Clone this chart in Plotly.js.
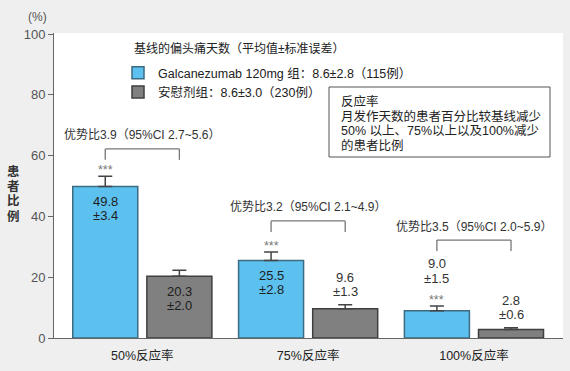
<!DOCTYPE html>
<html>
<head>
<meta charset="utf-8">
<script src="https://cdn.plot.ly/plotly-3.0.1.min.js"></script>
<style>html,body{margin:0;padding:0;background:#efefef;}#chart{width:570px;height:371px;}</style>
</head>
<body>
<div id="chart"></div>
<script>
// ---- data ----
const categories = ['50%反应率', '75%反应率', '100%反应率'];
const galcName = 'Galcanezumab 120mg 组：8.6±2.8（115例）';
const placeboName = '安慰剂组：8.6±3.0（230例）';
const galcValues = [49.8, 25.5, 9.0];
const galcErr = [3.4, 2.8, 1.5];
const placeboValues = [20.3, 9.6, 2.8];
const placeboErr = [2.0, 1.3, 0.6];
const oddsLabels = ['优势比3.9（95%CI 2.7~5.6）', '优势比3.2（95%CI 2.1~4.9）', '优势比3.5（95%CI 2.0~5.9）'];
const bracketTop = [62.2, 38.5, 32.2];
const legendTitle = '基线的偏头痛天数（平均值±标准误差）';
const noteLines = ['反应率', '月发作天数的患者百分比较基线减少', '50% 以上、75%以上以及100%减少', '的患者比例'];
const yTitleChars = ['患', '者', '比', '例'];
const yTicks = [0, 20, 40, 60, 80, 100];

// ---- style / layout constants ----
const FONT = 'Liberation Sans, Noto Sans CJK SC, sans-serif';
const BLUE = '#5cc1ee', BLUE_LINE = '#3d6b82';
const GRAY = '#808080', GRAY_LINE = '#3f3f3f';
const M = {l: 54, r: 7, t: 33, b: 33};
const W = 570, H = 371;
const PW = W - M.l - M.r, PH = H - M.t - M.b;
const BARGAP = 0.106, BARGROUPGAP = 0.123;
const slot = (1 - BARGAP) / 2;
const px2x = px => (px - M.l) / PW;
const py2y = py => (H - M.b - py) / PH;

const errBar = (arr, c) => ({type: 'data', array: arr, arrayminus: arr.map(() => 0), symmetric: false,
  color: c, thickness: 1.5, width: 7});

const traces = [
  {type: 'bar', name: galcName, x: categories, y: galcValues, error_y: errBar(galcErr, '#444'),
   marker: {color: BLUE, line: {color: BLUE_LINE, width: 1.5}}},
  {type: 'bar', name: placeboName, x: categories, y: placeboValues, error_y: errBar(placeboErr, '#444'),
   marker: {color: GRAY, line: {color: GRAY_LINE, width: 1.5}}}
];

const annotations = [];
const shapes = [];
const txt = (x, y, text, yshift, opts) => Object.assign({x: x, y: y, xref: 'x', yref: 'y', text: text,
  showarrow: false, yshift: yshift, xanchor: 'center', yanchor: 'middle',
  font: {family: FONT, size: 13, color: '#1e1e1e'}}, opts || {});
const outFont = {family: FONT, size: 13, color: '#333'};

categories.forEach((c, i) => {
  const xb = i - slot / 2, xg = i + slot / 2;
  // galcanezumab bar labels
  const gTop = galcValues[i] + galcErr[i];
  annotations.push(txt(xb, gTop, '***', 6, {font: {family: FONT, size: 12.5, color: '#777'}}));
  if (galcValues[i] > 15) {
    annotations.push(txt(xb, galcValues[i], galcValues[i].toFixed(1), -15));
    annotations.push(txt(xb, galcValues[i], '±' + galcErr[i].toFixed(1), -29));
  } else {
    annotations.push(txt(xb, gTop, galcValues[i].toFixed(1), 43, {font: outFont}));
    annotations.push(txt(xb, gTop, '±' + galcErr[i].toFixed(1), 28, {font: outFont}));
  }
  // placebo bar labels
  const pTop = placeboValues[i] + placeboErr[i];
  if (placeboValues[i] > 15) {
    annotations.push(txt(xg, placeboValues[i], placeboValues[i].toFixed(1), -15));
    annotations.push(txt(xg, placeboValues[i], '±' + placeboErr[i].toFixed(1), -29));
  } else {
    annotations.push(txt(xg, pTop, placeboValues[i].toFixed(1), 27.5, {font: outFont}));
    annotations.push(txt(xg, pTop, '±' + placeboErr[i].toFixed(1), 13.5, {font: outFont}));
  }
  // bracket
  const yt = bracketTop[i], yb = bracketTop[i] - 3.6;
  const ln = {color: '#777', width: 1.3};
  shapes.push({type: 'line', xref: 'x', yref: 'y', x0: xb, x1: xb, y0: yb, y1: yt, line: ln});
  shapes.push({type: 'line', xref: 'x', yref: 'y', x0: xb, x1: xg, y0: yt, y1: yt, line: ln});
  shapes.push({type: 'line', xref: 'x', yref: 'y', x0: xg, x1: xg, y0: yt, y1: yb, line: ln});
  annotations.push(txt(i, yt, oddsLabels[i], 13.5, {font: {family: FONT, size: 12, color: '#333'}}));
});

// "(%)" unit and y-axis title (stacked characters)
annotations.push({xref: 'paper', yref: 'paper', x: px2x(37), y: py2y(17), text: '(%)', showarrow: false,
  xanchor: 'center', yanchor: 'middle', font: {family: FONT, size: 12, color: '#555'}});
yTitleChars.forEach((ch, k) => annotations.push({xref: 'paper', yref: 'paper', x: px2x(13), y: py2y(171 + k * 15),
  text: '<b>' + ch + '</b>', showarrow: false, xanchor: 'center', yanchor: 'middle',
  font: {family: FONT, size: 12.5, color: '#333'}}));

// legend title
annotations.push({xref: 'paper', yref: 'paper', x: px2x(132), y: py2y(48), text: legendTitle, showarrow: false,
  xanchor: 'left', yanchor: 'middle', font: {family: FONT, size: 12, color: '#222'}});

// note box
shapes.push({type: 'rect', xref: 'paper', yref: 'paper', x0: px2x(329), x1: px2x(550), y0: py2y(157), y1: py2y(87),
  line: {color: '#555', width: 1}, fillcolor: 'rgba(0,0,0,0)'});
const noteY = [102, 116.5, 131, 145.5];
noteLines.forEach((t, k) => annotations.push({xref: 'paper', yref: 'paper', x: px2x(339), y: py2y(noteY[k]), text: t,
  showarrow: false, xanchor: 'left', yanchor: 'middle', font: {family: FONT, size: 12.5, color: '#222'}}));

const layout = {
  width: W, height: H,
  margin: M,
  paper_bgcolor: '#efefef', plot_bgcolor: '#ffffff',
  font: {family: FONT, color: '#333'},
  barmode: 'group', bargap: BARGAP, bargroupgap: BARGROUPGAP,
  showlegend: true,
  legend: {x: px2x(118), y: py2y(58), xanchor: 'left', yanchor: 'top', bgcolor: 'rgba(0,0,0,0)',
    tracegroupgap: 0, font: {family: FONT, size: 12.5, color: '#222'}},
  xaxis: {type: 'category', range: [-0.5326, 2.537], showline: true, linecolor: '#666', linewidth: 1,
    ticks: '', showgrid: false, zeroline: false, ticklabelstandoff: 6,
    tickfont: {family: FONT, size: 12.5, color: '#222'}, fixedrange: true},
  yaxis: {range: [0, 100.33], tickvals: yTicks, showline: true, linecolor: '#666', linewidth: 1,
    ticks: 'outside', ticklen: 5, tickcolor: '#666', showgrid: false, zeroline: false,
    tickfont: {family: FONT, size: 13, color: '#555'}, fixedrange: true},
  annotations: annotations,
  shapes: shapes
};

Plotly.newPlot('chart', traces, layout, {displayModeBar: false, staticPlot: true});
</script>
</body>
</html>
